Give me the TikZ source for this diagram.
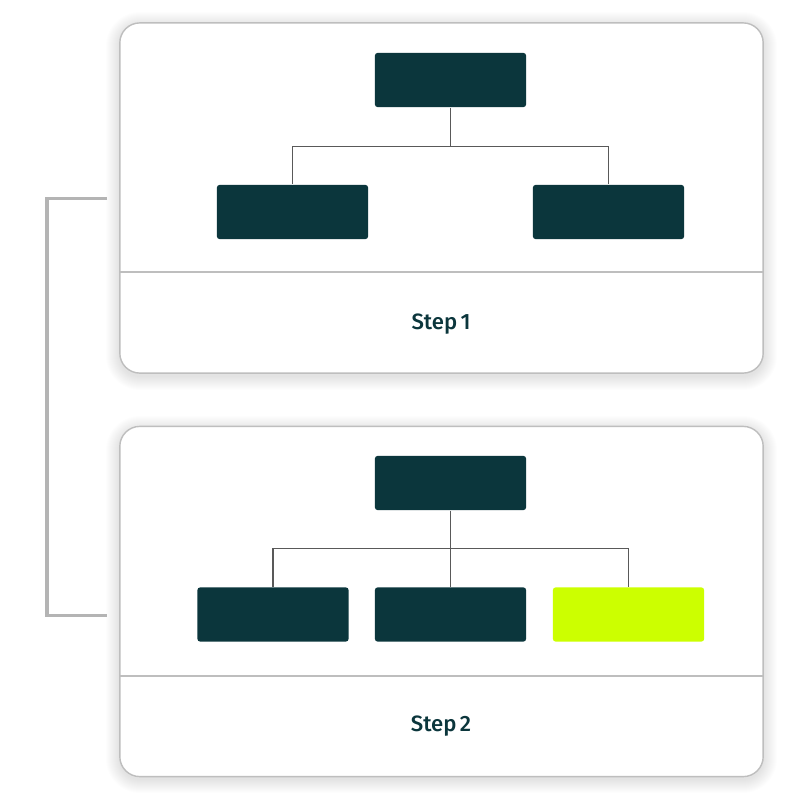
\documentclass[tikz,border=0pt]{standalone}
\usepackage{fontspec}
\setmainfont{Fira Sans}[UprightFont={* Medium}]
\definecolor{teal}{HTML}{0B363C}
\definecolor{lime}{HTML}{CCFF00}
\definecolor{cardline}{HTML}{BEBEBE}
\definecolor{bracket}{HTML}{B4B4B4}
\tikzset{
  card/.style={draw=cardline, line width=0.14mm, fill=white, rounded corners=2mm,
    minimum width=6.43cm, minimum height=3.5cm, inner sep=0pt},
  box/.style={fill=teal, rounded corners=0.25mm, minimum width=1.51cm,
    minimum height=0.54cm, inner sep=0pt},
  limebox/.style={box, fill=lime},
  conn/.style={draw=black!65, line width=0.12mm},
  divider/.style={draw=cardline, line width=0.14mm},
  steplabel/.style={text=teal, font=\fontsize{6.3pt}{7pt}\selectfont, inner sep=0pt},
  brk/.style={draw=bracket, line width=0.3mm},
}
\begin{document}
\begin{tikzpicture}[x=0.01cm,y=-0.01cm]
\useasboundingbox[fill=white] (0,0) rectangle (800,800);
% shadows
\foreach \i in {1,...,14}{
  \fill[black, opacity=0.007, rounded corners=2mm+\i*0.1mm] (120-\i,23-\i+3) rectangle (763+\i,373+\i+3);
  \fill[black, opacity=0.007, rounded corners=2mm+\i*0.1mm] (120-\i,427-\i+3) rectangle (763+\i,776+\i+3);
}
% cards
\node[card] (c1) at (441.5,198) {};
\node[card] (c2) at (441.5,601.5) {};
\draw[divider] (c1.west |- 0,272) -- (c1.east |- 0,272);
\draw[divider] (c2.west |- 0,676) -- (c2.east |- 0,676);
\node[steplabel] (s1) at (441,324) {Step\hspace{0.15em}1};
\node[steplabel] (s2) at (441,726) {Step\hspace{0.15em}2};
% step 1 tree
\node[box] (t1) at (450.5,80) {};
\node[box] (l1) at (292.5,212) {};
\node[box] (r1) at (608.5,212) {};
\draw[conn] (t1.south) -- ++(0,39) coordinate (m1);
\draw[conn] (m1) -| (l1.north);
\draw[conn] (m1) -| (r1.north);
% step 2 tree
\node[box] (t2) at (450.5,483) {};
\node[box] (l2) at (273,614.5) {};
\node[box] (m2) at (450.5,614.5) {};
\node[limebox] (r2) at (628.5,614.5) {};
\draw[conn] (t2.south) -- (m2.north);
\draw[conn] (t2.south) ++(0,38) coordinate (j2) -| (l2.north);
\draw[conn] (j2) -| (r2.north);
% bracket
\coordinate (b1) at (107,198);
\coordinate (b2) at (107,615);
\draw[brk] (b1) -- (47,198) -- (47,615) -- (b2);
\end{tikzpicture}
\end{document}
